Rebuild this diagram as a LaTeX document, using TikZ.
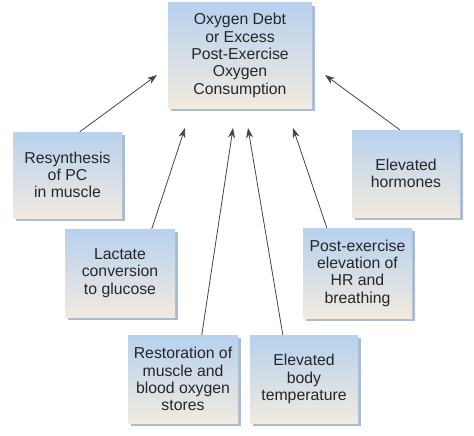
\documentclass[tikz,border=0pt]{standalone}
\usepackage{fontspec}
\setmainfont{Liberation Sans}
\usetikzlibrary{arrows.meta,shadows,calc}
\definecolor{boxtop}{HTML}{B7D1EE}
\definecolor{boxbot}{HTML}{F2EADF}
\definecolor{shadowc}{HTML}{A9BCD2}
\definecolor{txt}{HTML}{262626}
\definecolor{arr}{HTML}{444444}
\tikzset{
  infobox/.style={rectangle, inner sep=0pt, align=center,
    top color=boxtop, bottom color=boxbot,
    font=\fontsize{15.8}{17.3}\selectfont, text=txt,
    general shadow={shadow xshift=3pt, shadow yshift=-3pt, fill=shadowc}},
  conn/.style={draw=arr, line width=0.8pt, -{Stealth[length=10pt,width=7pt]}}
}
\begin{document}
\begin{tikzpicture}[x=1pt,y=-1pt]
\useasboundingbox (0,0) rectangle (474,436);
\node[infobox, minimum width=144pt, minimum height=105pt] (top) at (240,55.5)
  {Oxygen Debt\\or Excess\\Post-Exercise\\Oxygen\\Consumption};
\node[infobox, minimum width=109pt, minimum height=86pt] (resyn) at (67.5,175)
  {Resynthesis\\of PC\\in muscle};
\node[infobox, minimum width=108pt, minimum height=87pt] (horm) at (406,173.5)
  {Elevated\\hormones};
\node[infobox, minimum width=110pt, minimum height=88pt] (lact) at (120,273)
  {Lactate\\conversion\\to glucose};
\node[infobox, minimum width=109pt, minimum height=90pt] (post) at (357.5,273)
  {Post-exercise\\elevation of\\HR and\\breathing};
\node[infobox, minimum width=110pt, minimum height=88pt] (rest) at (183,379)
  {Restoration of\\muscle and\\blood oxygen\\stores};
\node[infobox, minimum width=108pt, minimum height=88pt] (temp) at (304,379)
  {Elevated\\body\\temperature};
% arrow start points on box tops
\coordinate (sResyn) at ($(resyn.north west)+(67,0)$);
\coordinate (sHorm)  at ($(horm.north west)+(48,0)$);
\coordinate (sLact)  at ($(lact.north west)+(87,0)$);
\coordinate (sPost)  at ($(post.north west)+(24,0)$);
\coordinate (sRest)  at ($(rest.north west)+(74,0)$);
\coordinate (sTemp)  at ($(temp.north west)+(33,0)$);
% arrow tips near the top box
\coordinate (tResyn) at (157,75);
\coordinate (tHorm)  at (325,75);
\coordinate (tLact)  at (185,128);
\coordinate (tRest)  at (233,128);
\coordinate (tTemp)  at (248,128);
\coordinate (tPost)  at (293,128);
\draw[conn] (sResyn) -- (tResyn);
\draw[conn] (sHorm) -- (tHorm);
\draw[conn] (sLact) -- (tLact);
\draw[conn] (sRest) -- (tRest);
\draw[conn] (sTemp) -- (tTemp);
\draw[conn] (sPost) -- (tPost);
\end{tikzpicture}
\end{document}
